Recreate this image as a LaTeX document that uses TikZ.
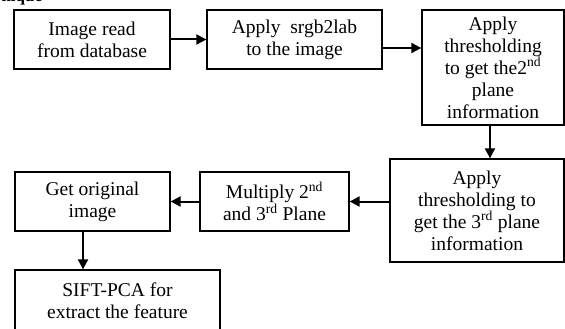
\documentclass[tikz,border=0pt]{standalone}
\usepackage{fontspec}
\setmainfont{Liberation Serif}
\usetikzlibrary{arrows.meta}
\tikzset{
  stepbox/.style={draw=black, line width=1.3pt, inner sep=0pt, align=center,
    font=\fontsize{19.5pt}{22pt}\selectfont, text=black},
  arr/.style={line width=2pt, -{Triangle[length=10pt,width=10pt]}}
}
\begin{document}
\begin{tikzpicture}[x=1pt,y=-1pt]
\useasboundingbox (0,0) rectangle (565,329);
\clip (0,0) rectangle (565,329);
\node[anchor=base west, font=\bfseries\fontsize{17pt}{17pt}\selectfont] (hdr) at (-2,2) {nique};
\node[stepbox, minimum width=156pt, minimum height=59pt] (b1) at (92,39.5) {Image read\\from database};
\node[stepbox, minimum width=175pt, minimum height=59pt] (b2) at (294.5,39.5) {Apply\ \ srgb2lab\\to the image};
\node[stepbox, minimum width=142pt, minimum height=115pt] (b3) at (493,67.5) {Apply\\thresholding\\to get the2\textsuperscript{nd}\\plane\\information};
\node[stepbox, minimum width=174pt, minimum height=103pt] (b4) at (477,210.5) {Apply\\thresholding to\\get the 3\textsuperscript{rd} plane\\information};
\node[stepbox, minimum width=149pt, minimum height=59pt] (b5) at (274.5,201.5) {Multiply 2\textsuperscript{nd}\\and 3\textsuperscript{rd} Plane};
\node[stepbox, minimum width=155pt, minimum height=59pt] (b6) at (92.5,201.5) {Get original\\image};
\node[stepbox, minimum width=205pt, minimum height=61pt] (b7) at (117.5,300.5) {SIFT-PCA for\\extract the feature};
\draw[arr] (b1.east) -- (b2.west);
\draw[arr] ([yshift=-8.5pt]b2.east) -- ([yshift=-8.5pt]b2.east -| b3.west);
\draw[arr] ([xshift=-3pt]b3.south) -- ([xshift=-3pt]b3.south |- b4.north);
\draw[arr] (b4.west |- b5.east) -- (b5.east);
\draw[arr] (b5.west) -- (b6.east);
\draw[arr] ([xshift=-9.5pt]b6.south) -- ([xshift=-9.5pt]b6.south |- b7.north);
\end{tikzpicture}
\end{document}
